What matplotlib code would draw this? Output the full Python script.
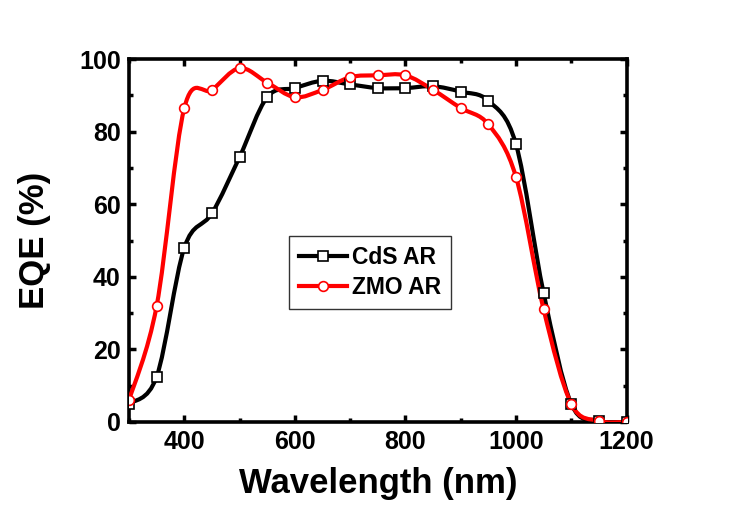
import matplotlib
matplotlib.use('Agg')
import matplotlib.pyplot as plt
from matplotlib.path import Path
from matplotlib.patches import PathPatch
from matplotlib.ticker import MultipleLocator

wavelength = [300, 350, 400, 450, 500, 550, 600, 650, 700, 750,
              800, 850, 900, 950, 1000, 1050, 1100, 1150, 1200]
cds_eqe = [5, 12.5, 48, 57.5, 73, 89.5, 92, 94, 93, 92,
           92, 92.5, 91, 88.5, 76.5, 35.5, 5, 0.3, 0]
zmo_eqe = [6, 32, 86.5, 91.5, 97.5, 93.5, 89.5, 91.5, 95, 95.5,
           95.5, 91.5, 86.5, 82, 67.5, 31, 5, 0.3, 0]

plt.rcParams['font.family'] = ['Liberation Sans', 'DejaVu Sans']
plt.rcParams['font.weight'] = 'bold'


def smooth_line(ax, x, y, color):
    # Catmull-Rom style bezier through the measured points (like Origin's spline connector)
    n = len(x)
    verts = [(x[0], y[0])]
    codes = [Path.MOVETO]
    for i in range(n - 1):
        a = max(i - 1, 0)
        d = min(i + 2, n - 1)
        c1 = (x[i] + (x[i + 1] - x[a]) / 6, y[i] + (y[i + 1] - y[a]) / 6)
        c2 = (x[i + 1] - (x[d] - x[i]) / 6, y[i + 1] - (y[d] - y[i]) / 6)
        verts += [c1, c2, (x[i + 1], y[i + 1])]
        codes += [Path.CURVE4] * 3
    patch = PathPatch(Path(verts, codes), fill=False, edgecolor=color,
                      lw=3.0, joinstyle='round', capstyle='round', zorder=3)
    ax.add_patch(patch)


fig = plt.figure(figsize=(7.31, 5.11), dpi=100)
ax = fig.add_axes([0.1765, 0.1742, 0.6806, 0.7103])

smooth_line(ax, wavelength, cds_eqe, 'black')
smooth_line(ax, wavelength, zmo_eqe, '#ff0000')
ax.plot(wavelength, cds_eqe, ls='none', marker='s', ms=6.5,
        mfc='white', mec='black', mew=1.2, zorder=4)
ax.plot(wavelength, zmo_eqe, ls='none', marker='o', ms=7,
        mfc='white', mec='#ff0000', mew=1.2, zorder=5)

# legend proxies
ax.plot([], [], color='black', lw=3.0, marker='s', ms=6.5,
        mfc='white', mec='black', mew=1.2, label='CdS AR')
ax.plot([], [], color='#ff0000', lw=3.0, marker='o', ms=7,
        mfc='white', mec='#ff0000', mew=1.2, label='ZMO AR')

ax.set_xlim(300, 1200)
ax.set_ylim(0, 100)
ax.xaxis.set_major_locator(MultipleLocator(200))
ax.xaxis.set_minor_locator(MultipleLocator(100))
ax.yaxis.set_major_locator(MultipleLocator(20))
ax.yaxis.set_minor_locator(MultipleLocator(10))
ax.tick_params(which='both', direction='in', top=True, right=True, width=2.5)
ax.tick_params(which='major', length=5, labelsize=18, pad=6)
ax.tick_params(which='minor', length=3)
for lab in ax.get_xticklabels() + ax.get_yticklabels():
    lab.set_fontweight('bold')
for s in ax.spines.values():
    s.set_linewidth(2.6)

ax.set_xlabel('Wavelength (nm)', fontsize=25, fontweight='bold', labelpad=9)
ax.set_ylabel('EQE (%)', fontsize=25, fontweight='bold', labelpad=20)

leg = ax.legend(loc='center', bbox_to_anchor=(0.484, 0.412),
                frameon=True, fancybox=False, edgecolor='black',
                handlelength=2.1, borderpad=0.45, labelspacing=0.3,
                handletextpad=0.2, borderaxespad=0,
                prop={'weight': 'bold', 'size': 16.5})
leg.get_frame().set_linewidth(1.0)

fig.savefig('out.png', dpi=100)
